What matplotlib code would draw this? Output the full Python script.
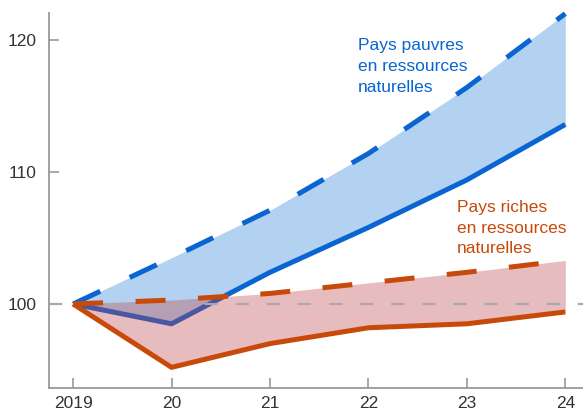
import matplotlib
matplotlib.use("Agg")
import matplotlib.pyplot as plt
from matplotlib import font_manager

years = [2019, 2020, 2021, 2022, 2023, 2024]
tick_labels = ["2019", "20", "21", "22", "23", "24"]
poor_high = [100, 103.5, 107.1, 111.4, 116.4, 122.0]
poor_low = [100, 98.5, 102.4, 105.8, 109.4, 113.6]
rich_high = [100, 100.3, 100.8, 101.6, 102.4, 103.3]
rich_low = [100, 95.2, 97.0, 98.2, 98.5, 99.4]
yticks = [100, 110, 120]
poor_label = ["Pays pauvres", "en ressources", "naturelles"]
rich_label = ["Pays riches", "en ressources", "naturelles"]

BLUE = "#0a64d2"
RED = "#c84a0a"

names = {f.name for f in font_manager.fontManager.ttflist}
if "Liberation Sans Narrow" in names:
    FAM = ['Liberation Sans Narrow', 'DejaVu Sans']
    TICK_FS, LAB_FS = 14, 15
else:
    FAM = ['Liberation Sans', 'DejaVu Sans']
    TICK_FS, LAB_FS = 12.5, 12.5
plt.rcParams['font.family'] = FAM

fig = plt.figure(figsize=(5.83, 4.15), dpi=100)
W, H = 583, 415
ax = fig.add_axes([49 / W, (H - 388) / H, (W - 49) / W, (388 - 13) / H])

ax.fill_between(years, poor_low, poor_high, color="#b3d1f0", lw=0, zorder=1)
ax.plot(years, poor_low, color=BLUE, lw=3.6, solid_capstyle='butt', zorder=2)
ax.plot(years, poor_high, color=BLUE, lw=3.6, linestyle=(0, (6, 6.5)),
        dash_capstyle='butt', zorder=2, clip_on=False)
ax.fill_between(years, rich_low, rich_high, color="#bd4048", alpha=0.35, lw=0, zorder=3)
ax.axhline(100, color="#aaaaaa", lw=1.6, linestyle=(0, (6, 8)), zorder=3.5)
ax.plot(years, rich_low, color=RED, lw=3.6, solid_capstyle='butt', zorder=4)
ax.plot(years, rich_high, color=RED, lw=3.6, linestyle=(0, (6, 6.5)),
        dash_capstyle='butt', zorder=4, clip_on=False)

ax.set_xlim(2018.755, 2024.18)
ax.set_ylim(100 - 84 / 13.2, 100 + 291 / 13.2)
ax.set_xticks(years)
ax.set_xticklabels(tick_labels)
ax.set_yticks(yticks)
ax.tick_params(axis='both', direction='in', length=7, width=1.2, color="#999999",
               labelsize=TICK_FS, labelcolor="#333333")
ax.tick_params(axis='x', pad=6)
ax.tick_params(axis='y', pad=9)
for s in ['top', 'right']:
    ax.spines[s].set_visible(False)
for s in ['left', 'bottom']:
    ax.spines[s].set_color("#999999")
    ax.spines[s].set_linewidth(1.3)

for i, line in enumerate(poor_label):
    fig.text(358 / W, 1 - (50 + 21 * i) / H, line, color=BLUE, fontsize=LAB_FS,
             ha='left', va='baseline')
for i, line in enumerate(rich_label):
    fig.text(457 / W, 1 - (212 + 20.5 * i) / H, line, color=RED, fontsize=LAB_FS,
             ha='left', va='baseline')

fig.savefig("out.png", dpi=100)
